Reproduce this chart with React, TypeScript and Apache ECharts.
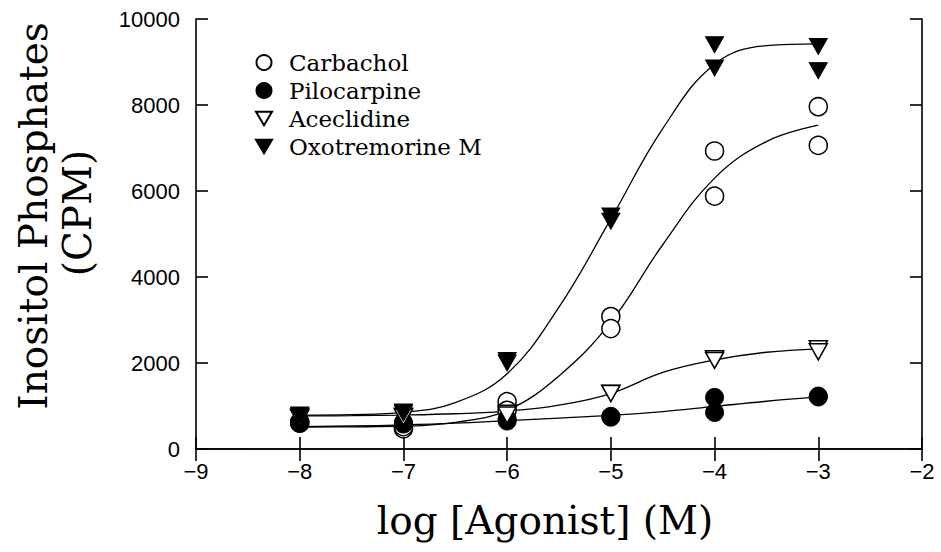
import React, { useEffect, useRef } from "react";
import * as echarts from "echarts";

// Measured doses (log M)
const doses = [-8, -7, -6, -5, -4, -3];
// Replicate measurements (CPM)
const carbacholRep1 = [600, 470, 1100, 3080, 6930, 7960];
const carbacholRep2 = [620, 520, 900, 2800, 5880, 7060];
const pilocarpineRep1 = [630, 580, 700, 760, 1200, 1230];
const pilocarpineRep2 = [640, 620, 650, 740, 850, 1210];
const aceclidineRep1 = [740, 760, 830, 1300, 2100, 2330];
const aceclidineRep2 = [720, 740, 790, 1290, 2060, 2260];
const oxotremorineRep1 = [790, 860, 2060, 5420, 9400, 9360];
const oxotremorineRep2 = [770, 830, 2000, 5300, 8860, 8800];

// Fitted curves
const fitDoses = [-8, -7.5, -7, -6.5, -6, -5.5, -5, -4.5, -4, -3.5, -3];
const carbacholFit = [510, 515, 530, 620, 900, 1700, 2950, 4750, 6300, 7150, 7530];
const pilocarpineFit = [520, 535, 560, 600, 660, 720, 780, 870, 990, 1110, 1210];
const aceclidineFit = [770, 775, 790, 820, 880, 1020, 1290, 1780, 2070, 2250, 2330];
const oxotremorineFit = [790, 800, 850, 1080, 1750, 3300, 5350, 7450, 8950, 9380, 9420];

const seriesNames = ["Carbachol", "Pilocarpine", "Aceclidine", "Oxotremorine M"];
const xTicks = { min: -9, max: -2, interval: 1 };
const yTicks = { min: 0, max: 10000, interval: 2000 };

const DOWN_TRI = "path://M0,0L20,0L10,17Z";

function pairs(xs: number[], ys: number[]) {
  return xs.map((x, i) => [x, ys[i]]);
}

export default function App() {
  const ref = useRef<HTMLDivElement>(null);
  useEffect(() => {
    if (!ref.current) return;
    const chart = echarts.init(ref.current, undefined, { renderer: "svg" });
    const sansLabel = { fontFamily: "Liberation Sans", fontSize: 22, color: "#000" };
    const axisLine = { show: true, lineStyle: { color: "#000", width: 1.6 } };
    const axisTick = { show: true, inside: true, length: 12, lineStyle: { color: "#000", width: 1.6 } };
    const minus = (v: number) => String(v).replace("-", "\u2212");
    const plain = (v: number) => String(v);

    const markerStyles = [
      { symbol: "circle", symbolSize: 18, itemStyle: { color: "#fff", borderColor: "#000", borderWidth: 1.5, opacity: 1 } },
      { symbol: "circle", symbolSize: 18, itemStyle: { color: "#000", borderColor: "#000", borderWidth: 1, opacity: 1 } },
      { symbol: DOWN_TRI, symbolSize: [18, 16], itemStyle: { color: "#fff", borderColor: "#000", borderWidth: 1.5, opacity: 1 } },
      { symbol: DOWN_TRI, symbolSize: [18, 16], itemStyle: { color: "#000", borderColor: "#000", borderWidth: 1, opacity: 1 } },
    ];
    const reps = [
      [carbacholRep1, carbacholRep2],
      [pilocarpineRep1, pilocarpineRep2],
      [aceclidineRep1, aceclidineRep2],
      [oxotremorineRep1, oxotremorineRep2],
    ];
    const fits = [carbacholFit, pilocarpineFit, aceclidineFit, oxotremorineFit];

    const fitSeries = fits.map((f, i) => ({
      name: seriesNames[i] + " fit",
      type: "line",
      data: pairs(fitDoses, f),
      smooth: 0.4,
      symbol: "none",
      lineStyle: { color: "#000", width: 1.3 },
      z: 2,
      silent: true,
    }));
    const pointSeries = reps.map((r, i) => ({
      name: seriesNames[i],
      type: "scatter",
      data: [...pairs(doses, r[0]), ...pairs(doses, r[1])],
      ...markerStyles[i],
      z: 3 + i,
    }));

    chart.setOption({
      animation: false,
      backgroundColor: "#fff",
      grid: { left: 196, right: 19, top: 19, bottom: 103, containLabel: false },
      xAxis: [
        {
          type: "value",
          ...xTicks,
          axisLine,
          axisTick,
          splitLine: { show: false },
          axisLabel: { ...sansLabel, margin: 11, formatter: minus },
        },
        {
          type: "value",
          position: "top",
          ...xTicks,
          axisLine,
          axisTick,
          splitLine: { show: false },
          axisLabel: { show: false },
        },
      ],
      yAxis: [
        {
          type: "value",
          ...yTicks,
          axisLine,
          axisTick,
          splitLine: { show: false },
          axisLabel: { ...sansLabel, margin: 16, formatter: plain },
        },
        {
          type: "value",
          position: "right",
          ...yTicks,
          axisLine,
          axisTick,
          splitLine: { show: false },
          axisLabel: { show: false },
        },
      ],
      legend: {
        data: seriesNames,
        orient: "vertical",
        left: 250,
        top: 44,
        itemWidth: 16,
        itemHeight: 15,
        itemGap: 1,
        textStyle: {
          fontFamily: "DejaVu Serif",
          fontSize: 23,
          color: "#000",
          lineHeight: 27,
          padding: [0, 0, 0, 12],
        },
        selectedMode: false,
      },
      graphic: [
        {
          type: "text",
          x: 33,
          y: 216,
          rotation: Math.PI / 2,
          style: {
            text: "Inositol Phosphates",
            fontFamily: "DejaVu Serif",
            fontSize: 39,
            fill: "#000",
            align: "center",
            verticalAlign: "middle",
          },
        },
        {
          type: "text",
          x: 77,
          y: 213,
          rotation: Math.PI / 2,
          style: {
            text: "(CPM)",
            fontFamily: "DejaVu Serif",
            fontSize: 39,
            fill: "#000",
            align: "center",
            verticalAlign: "middle",
          },
        },
        {
          type: "text",
          x: 545,
          y: 520,
          style: {
            text: "log [Agonist] (M)",
            fontFamily: "DejaVu Serif",
            fontSize: 39,
            fill: "#000",
            align: "center",
            verticalAlign: "middle",
          },
        },
      ],
      series: [...fitSeries, ...pointSeries],
    });
    return () => chart.dispose();
  }, []);
  return <div ref={ref} style={{ width: 941, height: 552, position: "absolute", left: 0, top: 0 }} />;
}
